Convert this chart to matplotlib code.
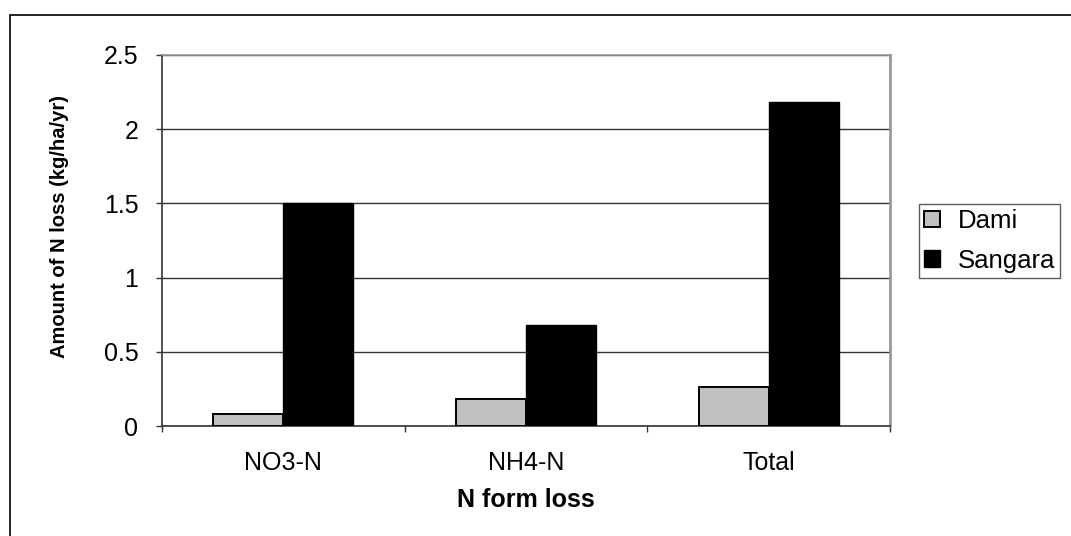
import numpy as np
import matplotlib
matplotlib.use("Agg")
import matplotlib.pyplot as plt
from matplotlib.patches import Rectangle

plt.rcParams.update({
    "font.family": ["Liberation Sans", "DejaVu Sans"],
    "font.size": 18,
})

categories = ["NO3-N", "NH4-N", "Total"]
dami = [0.08, 0.18, 0.26]
sangara = [1.50, 0.68, 2.18]
series_names = ["Dami", "Sangara"]

fig = plt.figure(figsize=(10.71, 5.36), dpi=100)
ax = fig.add_axes([162 / 1071, 1 - 426 / 536, (890 - 162) / 1071, (426 - 55) / 536])

x = np.arange(len(categories))
w = 0.288
ax.bar(x - w / 2, dami, w, color="#c0c0c0", edgecolor="black", linewidth=1.4,
       label=series_names[0], zorder=3)
ax.bar(x + w / 2, sangara, w, color="black", edgecolor="black", linewidth=1.0,
       label=series_names[1], zorder=3)

ax.set_xlim(-0.5, len(categories) - 0.5)
ax.set_ylim(0, 2.5)
ax.set_yticks(np.arange(0, 2.51, 0.5))
ax.set_yticklabels(["0", "0.5", "1", "1.5", "2", "2.5"])
ax.yaxis.grid(True, color="#333333", linewidth=1.0, zorder=0)

# category labels centred, tick marks on the boundaries
ax.set_xticks(x)
ax.set_xticklabels(categories, fontsize=18)
ax.tick_params(axis="x", length=0, pad=18)
ax.set_xticks(np.arange(-0.5, len(categories)), minor=True)
ax.tick_params(axis="x", which="minor", length=4, width=1, color="#333333")
ax.tick_params(axis="y", length=4, width=1, color="#333333", pad=13, labelsize=18)

ax.spines["left"].set_color("#333333")
ax.spines["bottom"].set_color("#333333")
ax.spines["top"].set_color("#999999")
ax.spines["right"].set_color("#999999")
ax.spines["right"].set_linewidth(2)
for s in ["left", "bottom", "top"]:
    ax.spines[s].set_linewidth(1.2)

ax.set_xlabel("N form loss", fontweight="bold", fontsize=18)
ax.xaxis.set_label_coords(0.5, (426 - 488) / 371)
ax.set_ylabel("Amount of N loss (kg/ha/yr)", fontweight="bold", fontsize=14.5)
ax.yaxis.set_label_coords((69 - 162) / 728, (426 - 226) / 371)

leg = ax.legend(loc="center left", bbox_to_anchor=(919 / 1071, 1 - 241 / 536),
                bbox_transform=fig.transFigure, frameon=True, fancybox=False,
                handlelength=0.6, handleheight=0.6, handletextpad=0.7,
                borderaxespad=0, borderpad=0.2, labelspacing=0.6, fontsize=18.5)
leg.get_frame().set_edgecolor("#333333")
leg.get_frame().set_linewidth(1.0)

# outer chart border
fig.add_artist(Rectangle((10 / 1071, -0.05), 1.05, 1 - 15 / 536 + 0.05,
                         transform=fig.transFigure, fill=False,
                         edgecolor="black", linewidth=1.2))

fig.savefig("out.png", dpi=100)
